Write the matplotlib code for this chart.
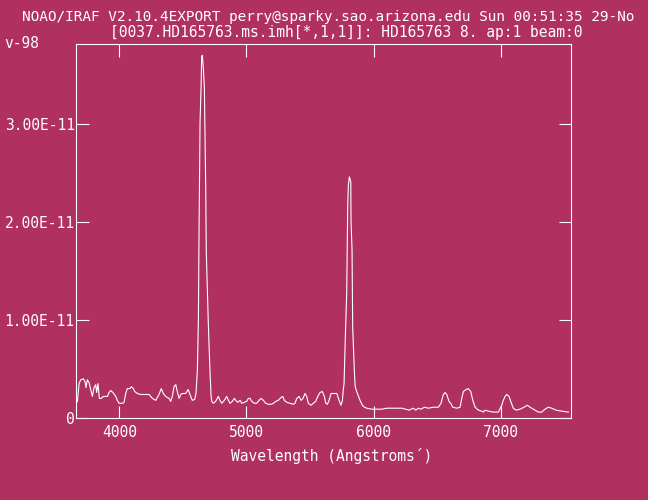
"""
IRAF splot-style spectrum of HD165763 redrawn with matplotlib.
"""
import numpy as np
import matplotlib
matplotlib.use("Agg")
import matplotlib.pyplot as plt

# wavelength (Angstroms) and flux (units of 1e-11)
wave = [3660, 3670, 3683, 3696, 3717, 3730, 3738, 3748, 3762, 3775,
        3788, 3801, 3814, 3822, 3832, 3843, 3858, 3874, 3893, 3906,
        3919, 3932, 3950, 3972, 3984, 3998, 4024, 4037, 4050, 4063,
        4084, 4094, 4110, 4121, 4142, 4168, 4208, 4234, 4260, 4286,
        4312, 4330, 4346, 4365, 4391, 4404, 4417, 4430, 4444, 4456,
        4470, 4483, 4496, 4522, 4541, 4556, 4574, 4593, 4603, 4614,
        4622, 4627, 4635, 4643, 4648, 4653, 4661, 4669, 4680, 4684,
        4696, 4700, 4708, 4716, 4722, 4727, 4740, 4758, 4779, 4792,
        4806, 4826, 4845, 4858, 4871, 4889, 4905, 4916, 4932, 4950,
        4963, 4984, 5002, 5015, 5028, 5042, 5062, 5081, 5099, 5115,
        5133, 5152, 5172, 5194, 5212, 5231, 5251, 5272, 5286, 5298,
        5317, 5343, 5369, 5382, 5396, 5414, 5430, 5445, 5461, 5474,
        5487, 5508, 5526, 5545, 5561, 5579, 5597, 5613, 5624, 5637,
        5650, 5666, 5684, 5711, 5729, 5744, 5755, 5762, 5768, 5778,
        5789, 5797, 5802, 5810, 5821, 5823, 5831, 5836, 5843, 5850,
        5855, 5860, 5876, 5894, 5912, 5928, 5947, 5986, 6025, 6065,
        6104, 6143, 6183, 6222, 6253, 6279, 6313, 6332, 6353, 6374,
        6400, 6431, 6471, 6510, 6531, 6549, 6563, 6576, 6594, 6612,
        6623, 6655, 6681, 6694, 6707, 6728, 6746, 6765, 6781, 6799,
        6825, 6851, 6864, 6877, 6903, 6943, 6982, 7009, 7021, 7035,
        7048, 7066, 7079, 7100, 7121, 7153, 7184, 7210, 7231, 7271,
        7297, 7323, 7349, 7375, 7402, 7436, 7481, 7533]
flux = [0.15, 0.17, 0.35, 0.39, 0.40, 0.37, 0.31, 0.39, 0.36, 0.29,
        0.22, 0.31, 0.34, 0.26, 0.35, 0.20, 0.20, 0.22, 0.22, 0.22,
        0.26, 0.28, 0.26, 0.22, 0.18, 0.15, 0.15, 0.16, 0.25, 0.30,
        0.30, 0.32, 0.30, 0.27, 0.25, 0.24, 0.24, 0.24, 0.20, 0.18,
        0.24, 0.30, 0.25, 0.22, 0.20, 0.17, 0.22, 0.32, 0.34, 0.27,
        0.20, 0.24, 0.25, 0.25, 0.29, 0.24, 0.18, 0.19, 0.25, 0.49,
        1.00, 1.89, 3.02, 3.37, 3.69, 3.70, 3.57, 3.37, 2.31, 1.70,
        1.15, 0.97, 0.66, 0.39, 0.22, 0.17, 0.15, 0.17, 0.22, 0.18,
        0.15, 0.18, 0.22, 0.18, 0.15, 0.17, 0.20, 0.18, 0.16, 0.18,
        0.15, 0.16, 0.17, 0.20, 0.20, 0.17, 0.15, 0.15, 0.18, 0.20,
        0.18, 0.15, 0.14, 0.14, 0.15, 0.17, 0.18, 0.21, 0.22, 0.18,
        0.16, 0.15, 0.14, 0.15, 0.20, 0.22, 0.18, 0.20, 0.25, 0.22,
        0.15, 0.13, 0.15, 0.17, 0.22, 0.26, 0.27, 0.22, 0.15, 0.14,
        0.18, 0.25, 0.25, 0.25, 0.18, 0.13, 0.18, 0.29, 0.35, 0.82,
        1.28, 2.17, 2.38, 2.46, 2.41, 2.00, 1.71, 0.92, 0.68, 0.45,
        0.33, 0.30, 0.24, 0.18, 0.13, 0.11, 0.10, 0.09, 0.09, 0.09,
        0.10, 0.10, 0.10, 0.10, 0.09, 0.08, 0.10, 0.08, 0.10, 0.09,
        0.11, 0.10, 0.11, 0.11, 0.15, 0.24, 0.26, 0.24, 0.17, 0.14,
        0.11, 0.10, 0.11, 0.20, 0.27, 0.29, 0.30, 0.27, 0.18, 0.11,
        0.08, 0.07, 0.06, 0.08, 0.07, 0.06, 0.06, 0.13, 0.18, 0.22,
        0.24, 0.22, 0.17, 0.10, 0.08, 0.09, 0.11, 0.13, 0.11, 0.08,
        0.06, 0.06, 0.09, 0.11, 0.10, 0.08, 0.07, 0.06]

xticks = [4000, 5000, 6000, 7000]
yticks = [0, 1e-11, 2e-11, 3e-11]
ytick_labels = ['0', '1.00E-11', '2.00E-11', '3.00E-11']

title1 = 'NOAO/IRAF V2.10.4EXPORT perry@sparky.sao.arizona.edu Sun 00:51:35 29-No'
title2 = '[0037.HD165763.ms.imh[*,1,1]]: HD165763 8. ap:1 beam:0'

bg = '#b03060'
fg = 'white'
mono = 'DejaVu Sans Mono'
fs = 10.5

fig = plt.figure(figsize=(6.48, 5.0), dpi=100, facecolor=bg)
ax = fig.add_axes([76 / 648, 1 - 418 / 500, (571.3 - 76) / 648, (418 - 44) / 500])
ax.set_facecolor(bg)

ax.plot(wave, np.array(flux) * 1e-11, color=fg, linewidth=0.8)

ax.set_xlim(3659, 7556)
ax.set_ylim(0, 3.816e-11)

ax.set_xticks(xticks)
ax.set_xticklabels([str(t) for t in xticks])
ax.set_yticks(yticks)
ax.set_yticklabels(ytick_labels)
ax.tick_params(direction='in', length=9, width=0.8, color=fg,
               labelcolor=fg, labelsize=fs, top=True, right=True)
ax.tick_params(axis='y', pad=1)
ax.tick_params(axis='x', pad=5)
for lab in ax.get_xticklabels() + ax.get_yticklabels():
    lab.set_family(mono)
for sp in ax.spines.values():
    sp.set_color(fg)
    sp.set_linewidth(0.8)

fig.text(332 / 648, 1 - 456 / 500, 'Wavelength (Angstroms´)', color=fg,
         family=mono, fontsize=fs, ha='center', va='center')
# header line is cut at the right edge in the original; keep it just inside
fig.text(22 / 648, 1 - 17 / 500, title1, color=fg, family=mono,
         fontsize=10.4, ha='left', va='center')
fig.text(110 / 648, 1 - 32 / 500, title2, color=fg, family=mono,
         fontsize=fs, ha='left', va='center')
fig.text(4 / 648, 1 - 44 / 500, 'v-98', color=fg, family=mono,
         fontsize=fs, ha='left', va='center')

fig.savefig('out.png', dpi=100, facecolor=bg)
